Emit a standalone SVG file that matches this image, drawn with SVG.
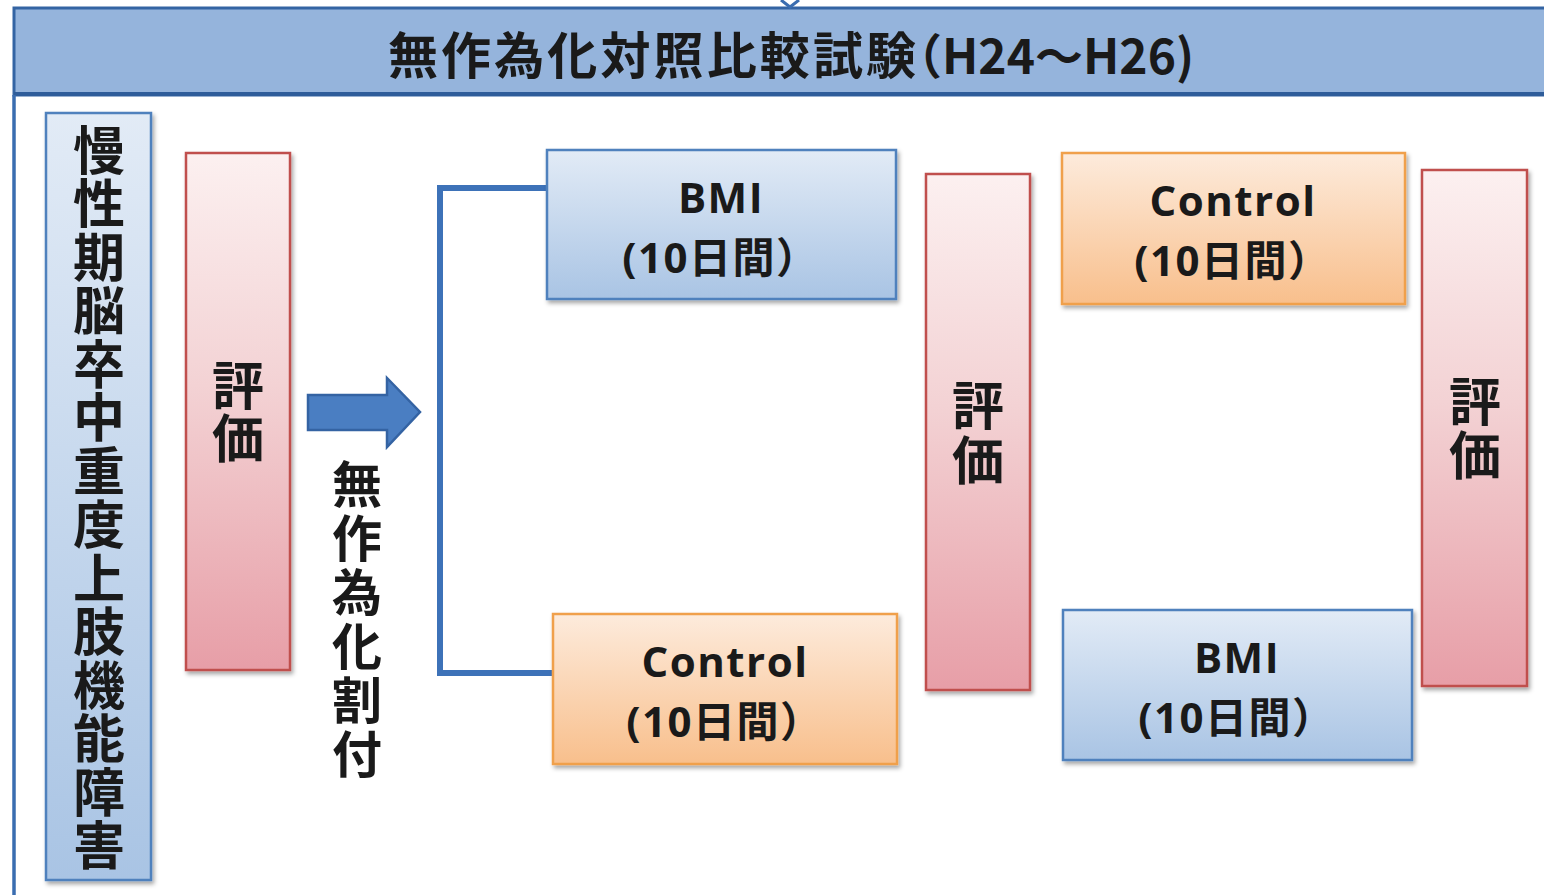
<svg xmlns="http://www.w3.org/2000/svg" width="1544" height="895" viewBox="0 0 1544 895">
<defs>
<linearGradient id="gBlue" x1="0" y1="0" x2="0" y2="1"><stop offset="0" stop-color="#e2ebf6"/><stop offset="1" stop-color="#a9c4e4"/></linearGradient>
<linearGradient id="gOrange" x1="0" y1="0" x2="0" y2="1"><stop offset="0" stop-color="#fdebdc"/><stop offset="1" stop-color="#f8bf8c"/></linearGradient>
<linearGradient id="gPink" x1="0" y1="0" x2="0" y2="1"><stop offset="0" stop-color="#fcf0f0"/><stop offset="0.45" stop-color="#f3d2d4"/><stop offset="1" stop-color="#e79ea7"/></linearGradient>
<filter id="sh" x="-10%" y="-10%" width="130%" height="130%"><feDropShadow dx="2" dy="3" stdDeviation="2" flood-color="#000" flood-opacity="0.35"/></filter>
<style>
.blue{fill:url(#gBlue);stroke:#4f81bd;stroke-width:2.5;filter:url(#sh)}
.orange{fill:url(#gOrange);stroke:#f0a04b;stroke-width:2.5;filter:url(#sh)}
.pink{fill:url(#gPink);stroke:#c0504d;stroke-width:2.5;filter:url(#sh)}
.jp{font-family:"Noto Sans CJK JP","Noto Sans CJK SC",sans-serif;font-weight:bold;fill:#1a1a1a}
.vt{font-family:"Noto Sans CJK JP","Noto Sans CJK SC",sans-serif;font-weight:bold;fill:#1a1a1a;writing-mode:vertical-rl;text-orientation:upright}
.lbl{font-family:"Open Sans","Noto Sans CJK JP",sans-serif;font-weight:bold;fill:#1a1a1a;font-size:42px;text-anchor:middle;letter-spacing:1.5px}
.conn{fill:none;stroke:#3d72b8;stroke-width:6}
</style>
</defs>
<rect x="0" y="0" width="1544" height="895" fill="#ffffff"/>

<g id="header">
<rect x="14" y="8" width="1540" height="87" fill="#95b4dc" stroke="#3464a3" stroke-width="3"/>
<line x1="14" y1="94" x2="1544" y2="94" stroke="#2f5d9a" stroke-width="4"/>
<line x1="14" y1="95" x2="14" y2="895" stroke="#3a6db0" stroke-width="3.5"/>
<text class="jp" font-size="50" y="74"><tspan x="388" textLength="528" lengthAdjust="spacing">無作為化対照比較試験</tspan><tspan x="894" font-size="48">（H24〜H26)</tspan></text>
</g>

<g id="connectors">
<polyline points="781,0 790,7 799,0" fill="none" stroke="#3a6db0" stroke-width="3"/>
<polyline class="conn" points="547,188 440,188 440,673 553,673"/>
<polygon points="308,395 387,395 387,378 420,412 387,447 387,430 308,430" fill="#4a7ec2" stroke="#3463a3" stroke-width="2.5"/>
</g>

<g id="subjects">
<rect class="blue" x="46" y="113" width="105" height="767"/>
<text class="vt" x="99" y="124" font-size="52" letter-spacing="1.5">慢性期脳卒中重度上肢機能障害</text>
</g>

<g id="eval1">
<rect class="pink" x="186" y="153" width="104" height="517"/>
<text class="vt" x="238" y="359" font-size="52" letter-spacing="1">評価</text>
</g>

<g id="randomize">
<text class="vt" x="357" y="459" font-size="50" letter-spacing="4">無作為化割付</text>
</g>

<g id="bmi1">
<rect class="blue" x="547" y="150" width="349" height="149"/>
<text class="lbl"><tspan x="721" y="213">BMI</tspan><tspan x="721" y="273">(10日間）</tspan></text>
</g>

<g id="control1">
<rect class="orange" x="553" y="614" width="344" height="150"/>
<text class="lbl"><tspan x="725" y="677">Control</tspan><tspan x="725" y="737">(10日間）</tspan></text>
</g>

<g id="eval2">
<rect class="pink" x="926" y="174" width="104" height="516"/>
<text class="vt" x="978" y="379" font-size="52" letter-spacing="3">評価</text>
</g>

<g id="control2">
<rect class="orange" x="1062" y="153" width="343" height="151"/>
<text class="lbl"><tspan x="1233" y="216">Control</tspan><tspan x="1233" y="276">(10日間）</tspan></text>
</g>

<g id="bmi2">
<rect class="blue" x="1063" y="610" width="349" height="150"/>
<text class="lbl"><tspan x="1237" y="673">BMI</tspan><tspan x="1237" y="733">(10日間）</tspan></text>
</g>

<g id="eval3">
<rect class="pink" x="1422" y="170" width="105" height="516"/>
<text class="vt" x="1475" y="375" font-size="52" letter-spacing="2">評価</text>
</g>
</svg>
